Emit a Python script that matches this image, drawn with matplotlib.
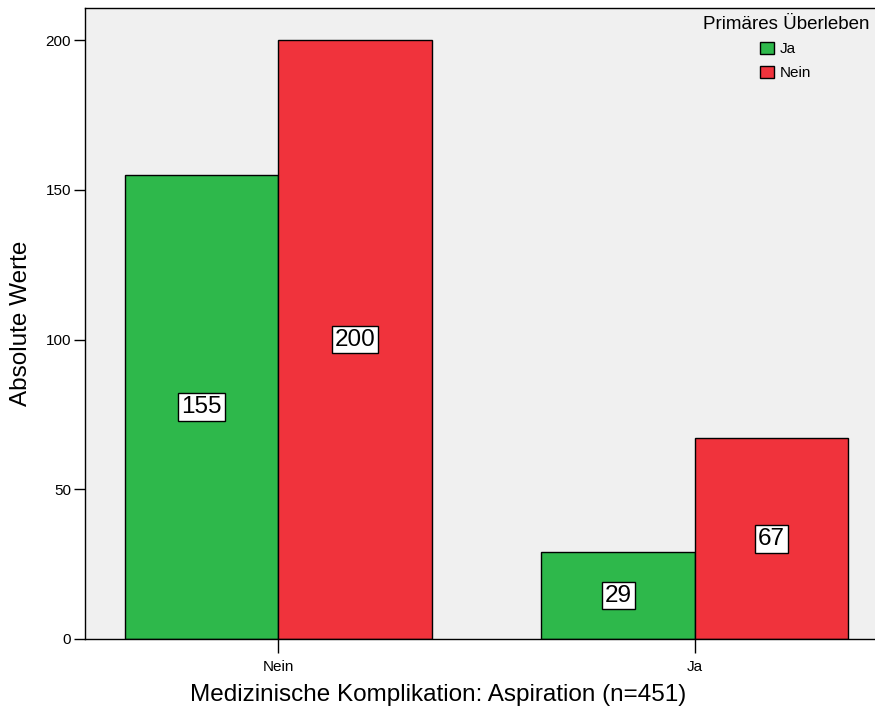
import matplotlib.pyplot as plt
import numpy as np

plt.rcParams['font.family'] = ['Liberation Sans', 'DejaVu Sans']

categories = ['Nein', 'Ja']
series = ['Ja', 'Nein']
values_ja = [155, 29]
values_nein = [200, 67]
colors = ['#2eb84b', '#f0333c']

fig = plt.figure(figsize=(8.75, 7.13), dpi=100)
ax = fig.add_axes([85 / 875, 74 / 713, 1.0 - 85 / 875 + 0.002, 631 / 713])
ax.set_facecolor('#f0f0f0')

x = np.arange(len(categories))
width = 0.368
bars1 = ax.bar(x - width / 2, values_ja, width, color=colors[0],
               edgecolor='black', linewidth=1, label=series[0])
bars2 = ax.bar(x + width / 2, values_nein, width, color=colors[1],
               edgecolor='black', linewidth=1, label=series[1])

for bars in (bars1, bars2):
    for b in bars:
        h = b.get_height()
        ax.text(b.get_x() + b.get_width() / 2, h / 2, str(int(h)),
                ha='center', va='center', fontsize=17.5,
                bbox=dict(boxstyle='square,pad=0.12', facecolor='white',
                          edgecolor='black', linewidth=1))

ax.set_xlim(-0.464, 1.437)
ax.set_ylim(0, 210.7)
ax.set_xticks(x)
ax.set_xticklabels(categories, fontsize=11)
ax.set_yticks([0, 50, 100, 150, 200])
ax.tick_params(axis='y', labelsize=11, length=8, width=1, pad=2)
ax.tick_params(axis='x', length=10, width=1, pad=5)
for s in ax.spines.values():
    s.set_linewidth(1)

ax.set_ylabel('Absolute Werte', fontsize=17.5, labelpad=10)
ax.set_xlabel('Medizinische Komplikation: Aspiration (n=451)', fontsize=17.5)
# x label sits centred on the figure, not the axes
ax.xaxis.set_label_coords((437.5 - 85) / 790, -0.071)

leg = ax.legend(title='Primäres Überleben', loc='upper right', frameon=False,
                fontsize=11, title_fontsize=13.5, handlelength=0.9,
                handleheight=0.9, handletextpad=0.4, borderaxespad=0.1,
                labelspacing=0.6, bbox_to_anchor=(1.0, 1.0))
leg._legend_box.align = 'center'

fig.savefig('out.png', dpi=100)
